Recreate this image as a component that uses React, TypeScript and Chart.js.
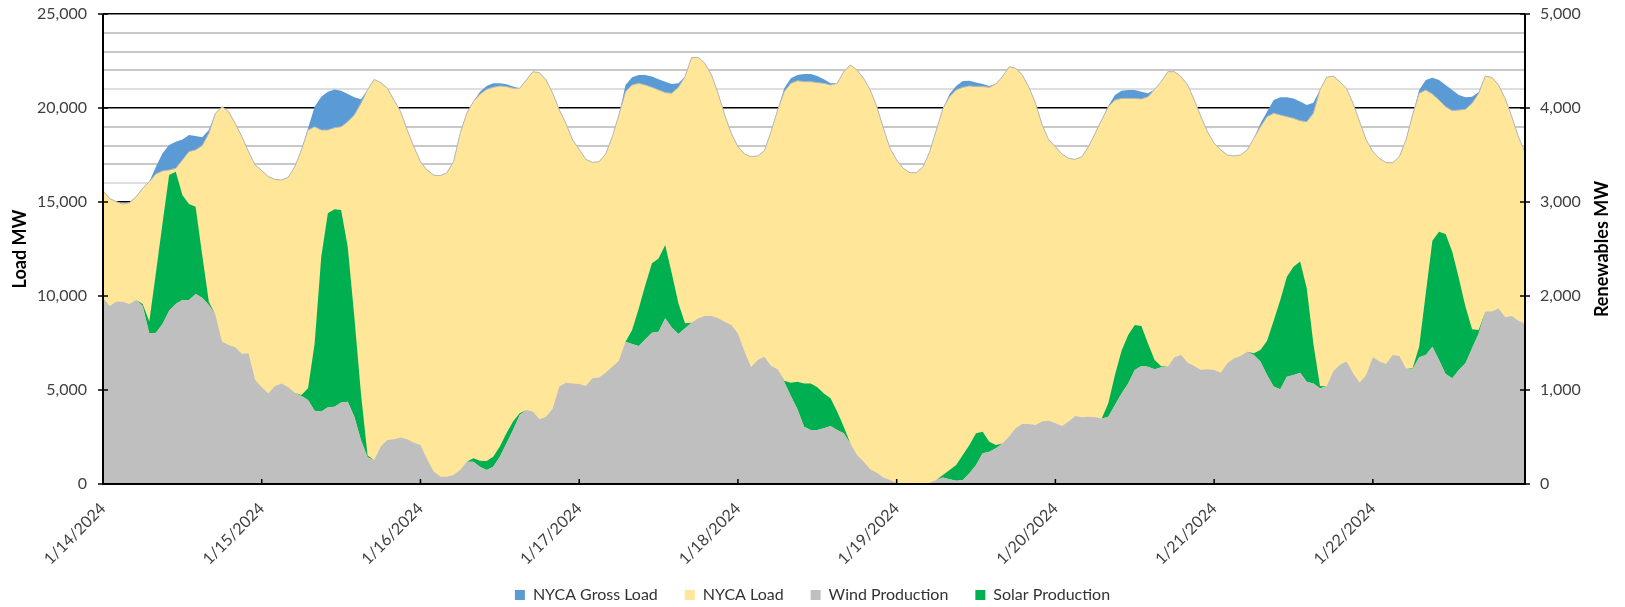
import React, { useEffect, useRef } from 'react';
import { Chart, registerables } from 'chart.js';

Chart.register(...registerables);

// ---------- data (hourly, 1/14/2024 00:00 .. 1/22/2024 23:00) ----------
const dayLabels = ['1/14/2024', '1/15/2024', '1/16/2024', '1/17/2024', '1/18/2024', '1/19/2024', '1/20/2024', '1/21/2024', '1/22/2024'];
const leftAxisTicks = [0, 5000, 10000, 15000, 20000, 25000];
const rightAxisTicks = [0, 1000, 2000, 3000, 4000, 5000];

// NYCA Gross Load (MW, left axis)
const grossLoad = [
  15600, 15190, 15020, 14890, 14960, 15280, 15730, 16080, 16880, 17590, 18030, 18210, 18330, 18560, 18510, 18440, 18830, 19720, 20070, 19800, 19180, 18470, 17680, 16970, 16670, 16350, 16200, 16170, 16310, 16880, 17770, 18920, 20070, 20600, 20870, 20990,
  20920, 20740, 20570, 20460, 20960, 21520, 21350, 21050, 20420, 19800, 18830, 17940, 17140, 16700, 16430, 16400, 16560, 17140, 18650, 19720, 20340, 20870, 21170, 21310, 21310, 21260, 21140, 21050, 21490, 21930, 21880, 21490, 20780, 19890, 19180, 18300,
  17800, 17270, 17110, 17140, 17550, 18470, 19630, 21220, 21630, 21760, 21760, 21670, 21530, 21400, 21280, 21310, 21670, 22690, 22690, 22380, 21760, 20780, 19630, 18650, 17940, 17550, 17410, 17450, 17730, 18740, 19890, 21050, 21580, 21760, 21810, 21810,
  21700, 21530, 21310, 21310, 21930, 22290, 22020, 21580, 20960, 20070, 18920, 17850, 17230, 16790, 16560, 16560, 16880, 17680, 18830, 19980, 20740, 21170, 21440, 21450, 21350, 21280, 21170, 21280, 21670, 22200, 22110, 21760, 21100, 20250, 19090, 18300,
  17940, 17550, 17320, 17270, 17410, 17940, 18650, 19360, 20100, 20690, 20920, 20960, 20960, 20870, 20780, 20990, 21400, 21930, 21930, 21670, 21220, 20420, 19540, 18740, 18120, 17770, 17500, 17450, 17500, 17770, 18390, 19180, 19800, 20420, 20570, 20570,
  20500, 20340, 20160, 20280, 20960, 21630, 21700, 21400, 21050, 20250, 19270, 18300, 17680, 17320, 17090, 17090, 17410, 18300, 19630, 20960, 21490, 21610, 21490, 21220, 20960, 20690, 20570, 20600, 20850, 21700, 21630, 21220, 20510, 19540, 18470, 17650,
];

// NYCA Load (MW, left axis)
const nycaLoad = [
  15600, 15190, 15020, 14890, 14960, 15280, 15730, 16080, 16490, 16650, 16700, 16790, 17230, 17680, 17770, 18000, 18650, 19720, 20070, 19800, 19180, 18470, 17680, 16970, 16670, 16350, 16200, 16170, 16310, 16880, 17770, 18830, 19000, 18830, 18830, 18950,
  19000, 19270, 19630, 20250, 20960, 21520, 21350, 21050, 20420, 19800, 18830, 17940, 17140, 16700, 16430, 16400, 16560, 17140, 18650, 19720, 20340, 20730, 20990, 21100, 21170, 21140, 21050, 21050, 21490, 21930, 21880, 21490, 20780, 19890, 19180, 18300,
  17800, 17270, 17110, 17140, 17550, 18470, 19630, 20870, 21220, 21310, 21220, 21100, 20960, 20820, 20780, 21100, 21670, 22690, 22690, 22380, 21760, 20780, 19630, 18650, 17940, 17550, 17410, 17450, 17730, 18740, 19890, 20870, 21310, 21450, 21400, 21400,
  21350, 21310, 21220, 21310, 21930, 22290, 22020, 21580, 20960, 20070, 18920, 17850, 17230, 16790, 16560, 16560, 16880, 17680, 18830, 19980, 20600, 20960, 21100, 21170, 21140, 21140, 21100, 21280, 21670, 22200, 22110, 21760, 21100, 20250, 19090, 18300,
  17940, 17550, 17320, 17270, 17410, 17940, 18650, 19360, 20070, 20420, 20510, 20510, 20510, 20480, 20600, 20990, 21400, 21930, 21930, 21670, 21220, 20420, 19540, 18740, 18120, 17770, 17500, 17450, 17500, 17770, 18390, 19000, 19540, 19720, 19630, 19540,
  19450, 19320, 19270, 19720, 20960, 21630, 21700, 21400, 21050, 20250, 19270, 18300, 17680, 17320, 17090, 17090, 17410, 18300, 19630, 20780, 20960, 20740, 20420, 20070, 19860, 19890, 19930, 20250, 20780, 21700, 21630, 21220, 20510, 19540, 18470, 17650,
];

// Wind Production (MW, right axis)
const windProduction = [
  1975, 1894, 1940, 1940, 1915, 1958, 1894, 1602, 1610, 1702, 1844, 1915, 1958, 1958, 2022, 1982, 1904, 1798, 1514, 1478, 1454, 1382, 1390, 1106, 1028, 964, 1042, 1070, 1028, 972, 936, 894, 780, 770, 816, 822,
  866, 876, 716, 468, 284, 256, 398, 468, 476, 496, 476, 440, 414, 262, 132, 78, 78, 96, 148, 238, 238, 184, 149, 184, 291, 432, 574, 734, 788, 770, 688, 716, 804, 1036, 1078, 1070,
  1064, 1042, 1124, 1134, 1184, 1248, 1312, 1514, 1490, 1468, 1540, 1610, 1620, 1762, 1666, 1596, 1656, 1716, 1762, 1788, 1788, 1762, 1726, 1692, 1602, 1408, 1242, 1320, 1354, 1256, 1220, 1088, 936, 794, 610, 574,
  574, 592, 618, 574, 540, 432, 308, 238, 156, 120, 70, 42, 14, 0, 0, 0, 0, 14, 42, 70, 50, 35, 42, 114, 202, 326, 344, 380, 432, 504, 592, 638, 638, 628, 664, 674,
  646, 618, 664, 724, 710, 716, 710, 698, 716, 840, 964, 1070, 1212, 1256, 1248, 1220, 1242, 1248, 1348, 1372, 1290, 1256, 1212, 1220, 1212, 1184, 1284, 1336, 1362, 1408, 1372, 1302, 1160, 1036, 1008, 1142,
  1160, 1184, 1088, 1070, 1018, 1036, 1196, 1266, 1302, 1178, 1078, 1160, 1348, 1302, 1276, 1372, 1362, 1230, 1220, 1348, 1372, 1460, 1320, 1170, 1124, 1212, 1284, 1444, 1602, 1834, 1834, 1868, 1774, 1788, 1738, 1706,
];

// Solar Production (MW, right axis, stacked on wind)
const solarProduction = [
  0, 0, 0, 0, 0, 0, 20, 126, 638, 1072, 1444, 1407, 1116, 1020, 928, 454, 36, 0, 0, 0, 0, 0, 0, 0, 0, 0, 0, 0, 0, 0, 10, 124, 716, 1648, 2064, 2100,
  2048, 1648, 1064, 496, 20, 0, 0, 0, 0, 0, 0, 0, 0, 0, 0, 0, 0, 0, 0, 0, 36, 64, 95, 107, 107, 108, 90, 18, 0, 0, 0, 0, 0, 0, 0, 0,
  0, 0, 0, 0, 0, 0, 0, 0, 148, 400, 578, 738, 780, 780, 574, 326, 54, 0, 0, 0, 0, 0, 0, 0, 0, 0, 0, 0, 0, 0, 0, 10, 142, 294, 460, 496,
  454, 372, 294, 196, 70, 0, 0, 0, 0, 0, 0, 0, 0, 0, 0, 0, 0, 0, 0, 26, 99, 167, 266, 300, 338, 230, 106, 34, 0, 0, 0, 0, 0, 0, 0, 0,
  0, 0, 0, 0, 0, 0, 0, 0, 142, 320, 454, 516, 480, 424, 248, 100, 10, 0, 0, 0, 0, 0, 0, 0, 0, 0, 0, 0, 0, 0, 18, 124, 364, 702, 950, 1064,
  1150, 1182, 994, 426, 24, 0, 0, 0, 0, 0, 0, 0, 0, 0, 0, 0, 0, 0, 10, 114, 656, 1128, 1364, 1490, 1348, 976, 602, 202, 36, 0, 0, 0, 0, 0, 0, 0,
];

const HOURS_PER_DAY = 24;
const hourLabels = dayLabels.flatMap((d) => Array.from({ length: HOURS_PER_DAY }, (_, h) => `${d} ${h}:00`));

const FONT = 'Lato, "Open Sans", sans-serif';
const CANVAS_W = 1625;
const CANVAS_H = 607;
const PLOT_BOTTOM_SPACE = 123; // space below plot area (axis labels + legend)
const LEGEND_RESERVED = 30;

const excelAxesPlugin = {
  id: 'excelAxes',
  afterDatasetsDraw(chart: any) {
    const { ctx, chartArea: a, scales } = chart;
    ctx.save();
    ctx.strokeStyle = '#000';
    ctx.lineWidth = 1.5;
    const seg = (x1: number, y1: number, x2: number, y2: number) => {
      ctx.beginPath();
      ctx.moveTo(x1, y1);
      ctx.lineTo(x2, y2);
      ctx.stroke();
    };
    for (const v of leftAxisTicks) {
      const y = scales.y.getPixelForValue(v);
      seg(a.left - 5, y, a.left + 5, y);
    }
    for (const v of rightAxisTicks) {
      const y = scales.y2.getPixelForValue(v);
      seg(a.right - 5, y, a.right + 5, y);
    }
    for (let d = 0; d < dayLabels.length; d++) {
      const x = scales.x.getPixelForValue(d * HOURS_PER_DAY);
      seg(x, a.bottom - 5, x, a.bottom);
    }
    ctx.lineWidth = 2;
    seg(a.left, a.top, a.left, a.bottom + 1);
    seg(a.right, a.top, a.right, a.bottom + 1);
    seg(a.left, a.bottom, a.right, a.bottom);

    // right axis title (reads bottom-to-top like the left one)
    ctx.fillStyle = '#000';
    ctx.font = `bold 18px ${FONT}`;
    ctx.textAlign = 'center';
    ctx.textBaseline = 'middle';
    ctx.translate(a.right + 77, (a.top + a.bottom) / 2);
    ctx.rotate(-Math.PI / 2);
    ctx.fillText('Renewables MW', 0, 0);
    ctx.restore();
  },
};

const legendPlacePlugin = {
  id: 'legendPlace',
  afterLayout(chart: any) {
    const lg = chart.legend;
    if (!lg) return;
    lg.top = chart.chartArea.bottom + 76;
    lg.bottom = lg.top + 60;
  },
};

const noVerticalPadding = (s: any) => {
  s.paddingTop = 0;
  s.paddingBottom = 0;
};

export default function App() {
  const ref = useRef<HTMLCanvasElement>(null);

  useEffect(() => {
    const canvas = ref.current;
    if (!canvas) return;
    Chart.defaults.font.family = FONT;
    Chart.defaults.font.size = 16;

    const chart = new Chart(canvas, {
      type: 'line',
      data: {
        labels: hourLabels,
        datasets: [
          {
            label: 'NYCA Gross Load',
            data: grossLoad,
            yAxisID: 'y',
            backgroundColor: '#5B9BD5',
            borderColor: '#5B9BD5',
            borderWidth: 0,
            fill: 'origin',
            order: 4,
          },
          {
            label: 'NYCA Load',
            data: nycaLoad,
            yAxisID: 'y',
            backgroundColor: '#FFE699',
            borderColor: '#b8b8b8',
            borderWidth: 1,
            fill: 'origin',
            order: 3,
          },
          {
            label: 'Wind Production',
            data: windProduction,
            yAxisID: 'y2',
            backgroundColor: '#BFBFBF',
            borderColor: '#BFBFBF',
            borderWidth: 0,
            fill: 'origin',
            order: 1,
          },
          {
            label: 'Solar Production',
            data: solarProduction,
            yAxisID: 'y2',
            backgroundColor: '#00B050',
            borderColor: '#00B050',
            borderWidth: 0,
            fill: '-1',
            order: 2,
          },
        ],
      },
      options: {
        responsive: false,
        maintainAspectRatio: false,
        animation: false,
        devicePixelRatio: 1,
        layout: { padding: { top: 14, left: 0, right: 0, bottom: 0 } },
        elements: { point: { radius: 0, hoverRadius: 0 }, line: { tension: 0 } },
        plugins: {
          tooltip: { enabled: false },
          legend: {
            display: true,
            position: 'bottom',
            maxHeight: LEGEND_RESERVED,
            labels: {
              boxWidth: 10,
              boxHeight: 10,
              padding: 27,
              color: '#333',
              font: { size: 16, family: FONT },
              generateLabels: (c: any) =>
                Chart.defaults.plugins.legend.labels
                  .generateLabels(c)
                  .map((l: any) => ({ ...l, lineWidth: 0, strokeStyle: 'rgba(0,0,0,0)' })),
              sort: (a: any, b: any) => a.datasetIndex - b.datasetIndex,
            },
          },
        },
        scales: {
          x: {
            type: 'category',
            offset: false,
            grid: { display: false, drawTicks: false },
            border: { display: false },
            ticks: {
              autoSkip: false,
              minRotation: 45,
              maxRotation: 45,
              padding: 15,
              color: '#404040',
              font: { size: 16 },
              callback: (_v: any, i: number) => (i % HOURS_PER_DAY === 0 ? dayLabels[i / HOURS_PER_DAY] : ''),
            },
            afterFit: (s: any) => {
              const lg = s.chart.legend;
              s.height = PLOT_BOTTOM_SPACE - (lg ? lg.height : 0);
            },
          },
          y: {
            position: 'left',
            min: 0,
            max: 25000,
            border: { display: false },
            grid: {
              drawTicks: false,
              color: (c: any) => {
                const v = c.tick ? c.tick.value : 0;
                if (v % 5000 === 0) return '#000000';
                if (v % 5000 === 1000) return '#dedede';
                return '#c8c8c8';
              },
              lineWidth: (c: any) => {
                const v = c.tick ? c.tick.value : 0;
                return v % 5000 === 0 ? 1.5 : 2;
              },
            },
            ticks: {
              stepSize: 1000,
              maxTicksLimit: 40,
              autoSkip: false,
              padding: 16,
              color: '#404040',
              font: { size: 16 },
              callback: (v: any) => (Number(v) % 5000 === 0 ? Number(v).toLocaleString('en-US') : ''),
            },
            title: {
              display: true,
              text: 'Load MW',
              color: '#000',
              font: { size: 18, weight: 'bold' },
              padding: { top: 9, bottom: 0 },
            },
            afterFit: (s: any) => {
              s.width = 103;
              noVerticalPadding(s);
            },
          },
          y2: {
            position: 'right',
            min: 0,
            max: 5000,
            stacked: true,
            border: { display: false },
            grid: { display: false, drawTicks: false },
            ticks: {
              stepSize: 1000,
              autoSkip: false,
              padding: 15,
              color: '#404040',
              font: { size: 16 },
              callback: (v: any) => Number(v).toLocaleString('en-US'),
            },
            afterFit: (s: any) => {
              s.width = 100;
              noVerticalPadding(s);
            },
          },
        },
      },
      plugins: [excelAxesPlugin, legendPlacePlugin],
    } as any);

    return () => chart.destroy();
  }, []);

  return (
    <div style={{ position: 'fixed', left: 0, top: 0, width: CANVAS_W, height: CANVAS_H, background: '#fff' }}>
      <canvas ref={ref} width={CANVAS_W} height={CANVAS_H} style={{ display: 'block', width: CANVAS_W, height: CANVAS_H }} />
    </div>
  );
}
